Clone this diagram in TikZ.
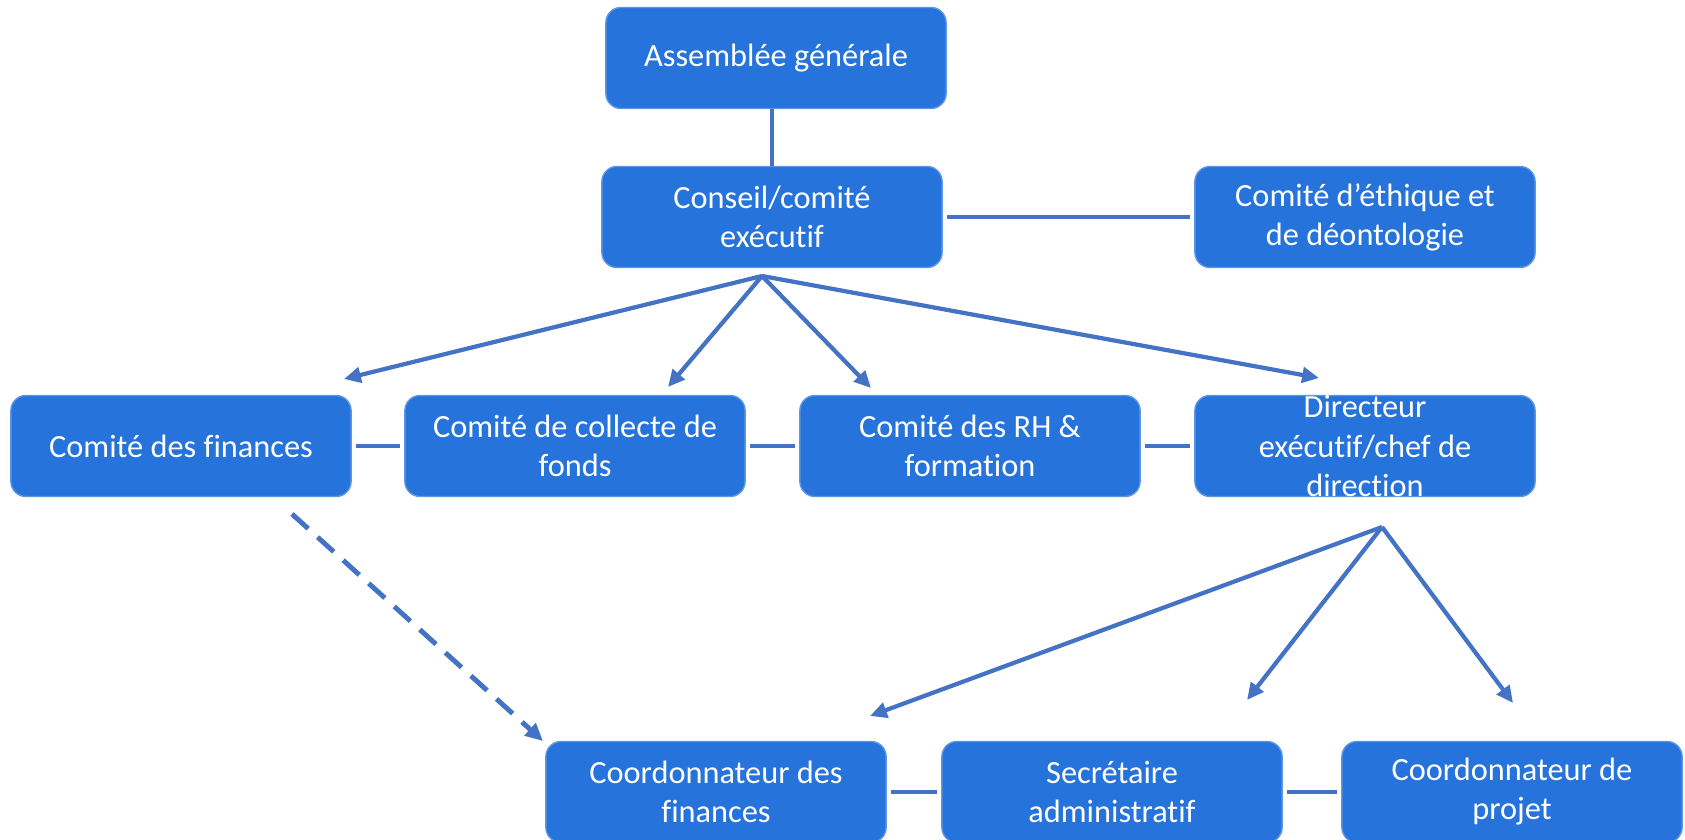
\documentclass[tikz,border=0pt]{standalone}
\usepackage{fontspec}
\setmainfont{Carlito}[Ligatures=NoCommon]
\usetikzlibrary{arrows.meta}
\definecolor{boxblue}{HTML}{2673DB}
\definecolor{linkblue}{HTML}{4472C4}

\begin{document}
\begin{tikzpicture}[x=0.01cm,y=-0.01cm]
    \tikzstyle{every node}+=[inner sep=0pt]
    \tikzstyle{unit}=[draw=boxblue!75!white, line width=0.4pt, fill=boxblue, rounded corners=4.3pt, minimum width=3.4cm, minimum height=1.01cm, text=white, align=center, font=\fontsize{9.2}{11.1}\selectfont]
    \tikzstyle{link}=[draw=linkblue, line width=1.2pt, shorten <=1.3pt, shorten >=1.3pt]
    \tikzstyle{arrow}=[draw=linkblue, line width=1.2pt, -{Triangle[length=4.8pt,width=4.4pt]}]
    \tikzstyle{dasharrow}=[draw=linkblue, line width=1.4pt, dash pattern=on 6.2pt off 3.6pt, -{Triangle[length=5pt,width=4.6pt]}]
    \useasboundingbox (0,0) rectangle (1685,840);
    \node [unit] (ag) at (776,58) {Assemblée générale};
    \node [unit] (conseil) at (772,217) {Conseil/comité\\exécutif};
    \node [unit] (ethique) at (1365,217) {Comité d’éthique et\\de déontologie};
    \node [unit] (fin) at (181,446) {Comité des finances};
    \node [unit] (collecte) at (575,446) {Comité de collecte de\\fonds};
    \node [unit] (rh) at (970,446) {Comité des RH \&\\formation};
    \node [unit] (dir) at (1365,446) {Directeur\\exécutif/chef de\\direction};
    \node [unit] (coordfin) at (716,792) {Coordonnateur des\\finances};
    \node [unit] (secr) at (1112,792) {Secrétaire\\administratif};
    \node [unit] (coordproj) at (1512,792) {Coordonnateur de\\projet};
    \coordinate (hub1) at (762,276);
    \coordinate (hub2) at (1382,527);
    \coordinate (to-fin) at (344,379);
    \coordinate (to-collecte) at (668,387);
    \coordinate (to-rh) at (871,388);
    \coordinate (to-dir) at (1319,378);
    \coordinate (to-coordfin) at (870,716);
    \coordinate (to-secr) at (1247,700);
    \coordinate (to-coordproj) at (1513,703);
    \coordinate (dash-start) at (292,514);
    \coordinate (dash-end) at (543,741);
    \draw [link, shorten <=0pt, shorten >=0pt] (conseil.north) -- (conseil.north |- ag.south);
    \draw [link] (conseil) -- (ethique);
    \draw [link] (fin) -- (collecte);
    \draw [link] (collecte) -- (rh);
    \draw [link] (rh) -- (dir);
    \draw [link] (coordfin) -- (secr);
    \draw [link] (secr) -- (coordproj);
    \draw [arrow] (hub1) -- (to-fin);
    \draw [arrow] (hub1) -- (to-collecte);
    \draw [arrow] (hub1) -- (to-rh);
    \draw [arrow] (hub1) -- (to-dir);
    \draw [arrow] (hub2) -- (to-coordfin);
    \draw [arrow] (hub2) -- (to-secr);
    \draw [arrow] (hub2) -- (to-coordproj);
    \draw [dasharrow] (dash-start) -- (dash-end);
\end{tikzpicture}
\end{document}
